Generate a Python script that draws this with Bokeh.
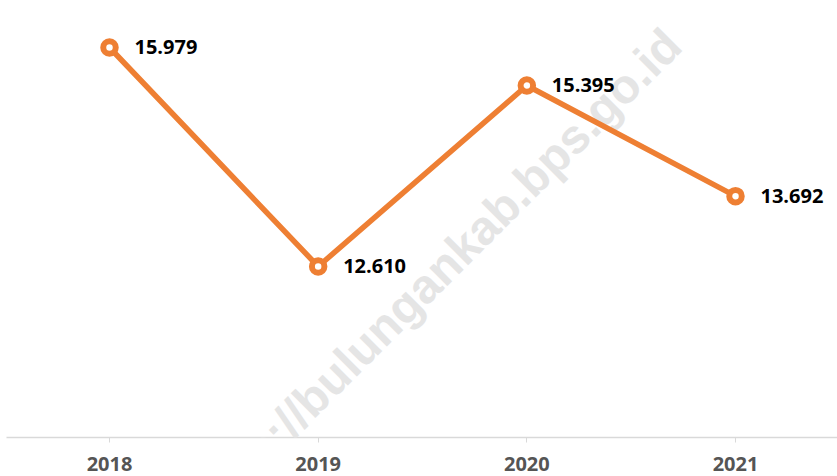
from bokeh.plotting import figure
from bokeh.models import Range1d, FixedTicker, ColumnDataSource, Label, LabelSet
from bokeh.core.properties import value
from bokeh.embed import file_html
from bokeh.resources import INLINE

years = [2018, 2019, 2020, 2021]
values = [15.979, 12.610, 15.395, 13.692]
value_labels = ["15.979", "12.610", "15.395", "13.692"]
watermark = "https://bulungankab.bps.go.id"

ORANGE = "#ee7f33"

src = ColumnDataSource(dict(x=years, y=values, lab=value_labels))

p = figure(width=837, height=476, output_backend="svg", toolbar_location=None,
           x_range=Range1d(2017.5064, 2021.4888), y_range=Range1d(9.979, 16.702),
           min_border_left=6, min_border_right=0, min_border_top=0, min_border_bottom=39)
p.outline_line_color = None
p.grid.visible = False
p.yaxis.visible = False

ax = p.xaxis[0]
ax.ticker = FixedTicker(ticks=years)
ax.major_label_text_font = "Open Sans"
ax.major_label_text_font_style = "bold"
ax.major_label_text_font_size = "20px"
ax.major_label_text_color = "#555555"
ax.axis_line_color = "#d9d9d9"
ax.axis_line_width = 1.5
ax.major_tick_line_color = "#d9d9d9"
ax.major_tick_in = 0
ax.major_tick_out = 5
ax.minor_tick_line_color = None
ax.major_label_standoff = 14

wm = Label(x=2019.538, y=12.410, text=watermark, angle=45, angle_units="deg",
           text_font="Liberation Sans", text_font_style="bold", text_font_size="48px",
           text_color="#e5e5e5", text_align="center", text_baseline="alphabetic",
           level="annotation")
p.add_layout(wm)

line_r = p.line("x", "y", source=src, line_color=ORANGE, line_width=5.5)
pts_r = p.scatter("x", "y", source=src, size=12.5, line_width=6, line_color=ORANGE, fill_color="white")
line_r.level = "overlay"
pts_r.level = "overlay"

labels = LabelSet(x="x", y="y", text="lab", source=src, x_offset=25, y_offset=0,
                  text_font=value("Open Sans"), text_font_style="bold", text_font_size="20px",
                  text_color="#000000", text_baseline="middle", text_align="left",
                  level="overlay")
p.add_layout(labels)

open("out.html", "w").write(file_html(p, INLINE))
